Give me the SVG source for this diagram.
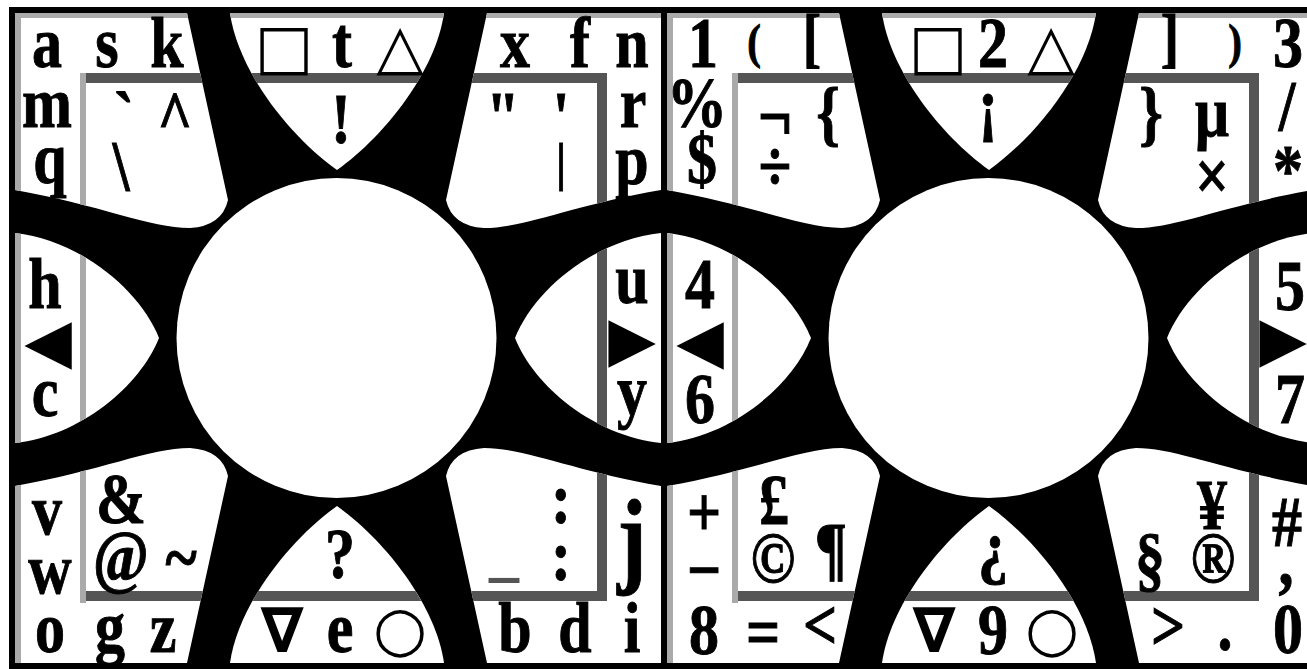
<svg xmlns="http://www.w3.org/2000/svg" width="1307" height="669" viewBox="0 0 1307 669">
<style>
.zone{fill:#fff}
.hl{stroke:#555;stroke-width:10;fill:none}
.vl{stroke:#aaa;stroke-width:6;fill:none}
.vd{stroke:#555;stroke-width:10;fill:none}
.edge{fill:#aaa}
text{font-family:"Liberation Serif","Times New Roman",serif;font-weight:bold;font-size:60px;fill:#000;stroke:#000;stroke-width:0.8px;text-anchor:middle}
.sym{font-family:"DejaVu Sans",sans-serif;font-weight:bold;font-size:62px;stroke:none}
.sm{font-size:41px}
.bar{font-size:44px}
.br{font-size:55px}
.jj{font-size:88px}
.g5{fill:#555;stroke:none}
</style>
<defs>
<path id="z-tl" d="M15,13 H187 L228,200 Q222,226 190,228 C150,228 100,205 15,190 Z"/>
<path id="z-t" d="M230,13 H444 C436,70 386,135 337,170 C288,135 238,70 230,13 Z"/>
<path id="z-tr" d="M661,13 H487 L446,200 Q452,226 484,228 C524,228 574,205 661,190 Z"/>
<path id="z-ml" d="M15,233 C80,240 140,290 159,338 C140,386 80,436 15,443 Z"/>
<path id="z-mr" d="M661,233 C594,240 534,290 515,338 C534,386 594,436 661,443 Z"/>
<path id="z-bl" d="M15,663 H187 L228,476 Q222,450 190,448 C150,448 100,471 15,486 Z"/>
<path id="z-b" d="M230,663 H444 C436,606 386,541 337,506 C288,541 238,606 230,663 Z"/>
<path id="z-br" d="M661,663 H487 L446,476 Q452,450 484,448 C524,448 574,471 661,486 Z"/>
<clipPath id="zclip">
<use href="#z-tl"/><use href="#z-t"/><use href="#z-tr"/><use href="#z-ml"/><use href="#z-mr"/><use href="#z-bl"/><use href="#z-b"/><use href="#z-br"/>
</clipPath>
<g id="pad">
<rect x="9" y="7" width="652" height="662" fill="#000"/>
<g class="zone">
<use href="#z-tl"/><use href="#z-t"/><use href="#z-tr"/><use href="#z-ml"/><use href="#z-mr"/><use href="#z-bl"/><use href="#z-b"/><use href="#z-br"/>
</g>
<g clip-path="url(#zclip)">
<rect class="edge" x="9" y="13" width="652" height="5"/>
<rect class="edge" x="15" y="13" width="6" height="650"/>
<path class="hl" d="M80,78 H215 M220,78 H460 M470,78 H607 M80,596 H215 M220,596 H460 M470,596 H607"/>
<path class="vl" d="M83,73 V232 M83,220 V460 M83,444 V603"/>
<path class="vd" d="M602,73 V232 M602,220 V460 M602,444 V601"/>
</g>
<circle cx="336.5" cy="338" r="160" fill="#fff"/>
</g>
</defs>
<rect width="1307" height="669" fill="#fff"/>
<g id="pad-letters">
<use href="#pad"/>
<g id="letters-tl" transform="scale(1 1.2)">
<text x="47" y="55.9">a</text><text x="107" y="55.9">s</text><text x="167" y="55.9">k</text>
<text x="47" y="105.8">m</text><text x="50" y="152.5">q</text>
<text x="124" y="117.5">`</text><text x="175" y="117.5">^</text><text x="121" y="158.3">\</text>
</g>
<g id="letters-t">
<text class="sym" x="284" y="68">□</text><text class="sym" x="400" y="68">△</text>
<g transform="scale(1 1.2)"><text x="342" y="55.9">t</text><text x="341" y="119.1">!</text></g>
</g>
<g id="letters-tr" transform="scale(1 1.2)">
<text x="515" y="55.9">x</text><text x="580" y="55.9">f</text><text x="632" y="55.9">n</text>
<text x="503" y="117.5">"</text><text x="561" y="117.5">'</text><text class="bar" x="561" y="150.2">|</text>
<text x="633" y="105.8">r</text><text x="632" y="153.3">p</text>
</g>
<g id="letters-ml">
<text class="sym" x="48" y="362">◀</text>
<g transform="scale(1 1.2)"><text x="45" y="256.6">h</text><text x="45" y="346.7">c</text></g>
</g>
<g id="letters-mr">
<text class="sym" x="632" y="360">▶</text>
<g transform="scale(1 1.2)"><text x="632" y="252.5">u</text><text x="632" y="345.8">y</text></g>
</g>
<g id="letters-bl" transform="scale(1 1.2)">
<text x="47" y="445">v</text><text x="50" y="494.1">w</text>
<text x="121" y="435.8">&amp;</text><text x="121" y="483.3">@</text><text x="181" y="485">~</text>
<text x="50" y="543.3">o</text><text x="110" y="543.3">g</text><text x="163" y="543.3">z</text>
</g>
<g id="letters-b">
<text class="sym" x="282" y="652">∇</text><text class="sym" x="400" y="650">○</text>
<g transform="scale(1 1.2)"><text x="340" y="481.7">?</text><text x="340" y="543.3">e</text></g>
</g>
<g id="letters-br" transform="scale(1 1.2)">
<text x="561" y="435.8">:</text><text x="561" y="483.3">:</text><text class="g5" x="504" y="477.4">_</text>
<text class="jj" x="632" y="477.4">j</text>
<text x="515" y="543.3">b</text><text x="575" y="543.3">d</text><text x="632" y="543.3">i</text>
</g>
</g>
<g id="pad-numbers">
<use href="#pad" transform="translate(652,0)"/>
<g id="numbers-tl" transform="scale(1 1.2)">
<text x="703" y="55.9">1</text><text class="sm" x="754" y="48.4">(</text><text class="br" x="812" y="50">[</text>
<text x="697" y="105.8">%</text><text x="702" y="152.5">$</text>
<text x="775" y="116.6">¬</text><text x="828" y="114.2">{</text><text x="775" y="158.3">÷</text>
</g>
<g id="numbers-t">
<text class="sym" x="938" y="68">□</text><text class="sym" x="1051" y="68">△</text>
<g transform="scale(1 1.2)"><text x="993" y="55.9">2</text><text x="988" y="106.7">¡</text></g>
</g>
<g id="numbers-tr" transform="scale(1 1.2)">
<text class="br" x="1170" y="50">]</text><text class="sm" x="1235" y="48.4">)</text><text x="1288" y="55.9">3</text>
<text x="1287" y="108.4">/</text><text x="1288" y="161.7">*</text>
<text x="1151" y="114.2">}</text><text x="1212" y="113.3">μ</text><text x="1212" y="166.7">×</text>
</g>
<g id="numbers-ml">
<text class="sym" x="700" y="362">◀</text>
<g transform="scale(1 1.2)"><text x="700" y="256.6">4</text><text x="700" y="352.6">6</text></g>
</g>
<g id="numbers-mr">
<text class="sym" x="1283" y="360">▶</text>
<g transform="scale(1 1.2)"><text x="1290" y="258.3">5</text><text x="1290" y="352.6">7</text></g>
</g>
<g id="numbers-bl" transform="scale(1 1.2)">
<text x="704" y="446.6">+</text><text x="704" y="495">−</text>
<text x="774" y="436.7">£</text><text x="773" y="485.1">©</text><text x="831" y="476.3">¶</text>
<text x="704" y="545.1">8</text><text x="763" y="546.7">=</text><text x="820" y="540.9">&lt;</text>
</g>
<g id="numbers-b">
<text class="sym" x="934" y="652">∇</text><text class="sym" x="1052" y="650">○</text>
<g transform="scale(1 1.2)"><text x="993" y="475">¿</text><text x="993" y="545.1">9</text></g>
</g>
<g id="numbers-br" transform="scale(1 1.2)">
<text x="1212" y="440.9">¥</text><text x="1150" y="485.9">§</text><text x="1213" y="485.1">®</text>
<text x="1287" y="455">#</text><text x="1286" y="487.5">,</text>
<text x="1168" y="541.6">&gt;</text><text x="1225" y="541.6">.</text><text x="1288" y="544.2">0</text>
</g>
</g>
</svg>
